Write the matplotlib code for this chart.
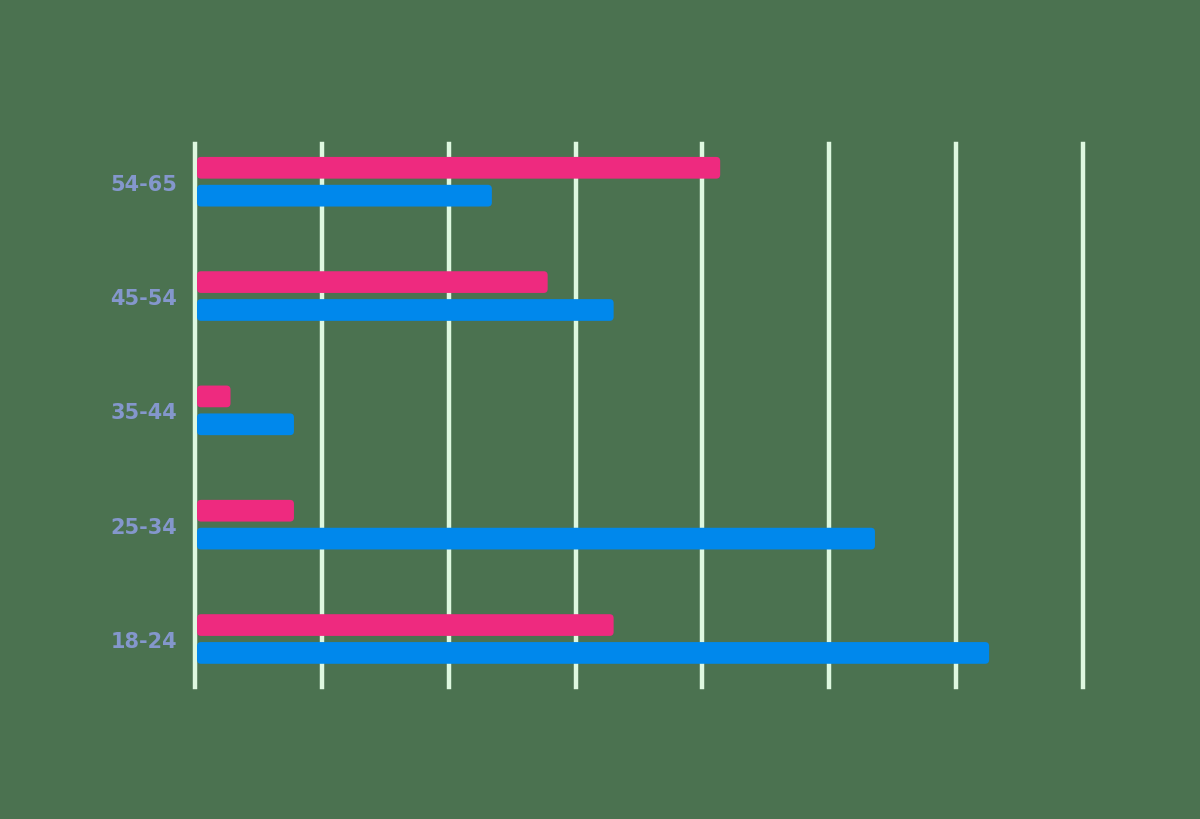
import numpy as np
import matplotlib
matplotlib.use("Agg")
from matplotlib import pyplot as plt
from matplotlib.patches import FancyBboxPatch

# age groups, bottom to top
groups = ["18-24", "25-34", "35-44", "45-54", "54-65"]
pink_vals = [16.5, 3.9, 1.4, 13.9, 20.7]
blue_vals = [31.3, 26.8, 3.9, 16.5, 11.7]
grid_x = [0, 5, 10, 15, 20, 25, 30, 35]

bg = "#4b7250"
pink = "#ee2a7f"
blue = "#0088ec"
gridc = "#def8e0"

fig = plt.figure(figsize=(12, 8.2), dpi=100)
fig.patch.set_facecolor(bg)
ax = fig.add_axes([195/1200, 132/820, 888/1200, 543/820])
ax.set_facecolor(bg)

for gx in grid_x:
    ax.axvline(gx, color=gridc, lw=3.2, zorder=1, clip_on=False)

y = np.arange(len(groups))
h = 0.19
off = 0.122
bars_p = ax.barh(y + off, pink_vals, height=h, color=pink, zorder=3)
bars_b = ax.barh(y - off, blue_vals, height=h, color=blue, zorder=3)

# swap the plain bars for ones with a rounded right end
x_per_px = 35 / 888
y_per_px = 4.75 / 543
r = 4 * x_per_px
for bars in (bars_p, bars_b):
    for rect in bars:
        x0, y0 = rect.get_x(), rect.get_y()
        w, hh = rect.get_width(), rect.get_height()
        fc = rect.get_facecolor()
        rect.set_visible(False)
        ax.add_patch(FancyBboxPatch((x0 + 0.08, y0), w - 0.08, hh,
                                    boxstyle="round,pad=0,rounding_size=%f" % r,
                                    mutation_aspect=y_per_px / x_per_px,
                                    fc=fc, ec="none", zorder=3))

ax.set_xlim(0, 35)
ax.set_ylim(-0.42, 4.33)
ax.set_yticks(y)
ax.set_yticklabels(groups, fontsize=15, color="#8497cc", fontweight="semibold")
ax.tick_params(axis="y", length=0, pad=13)
ax.set_xticks([])
for s in ax.spines.values():
    s.set_visible(False)

fig.savefig("out.png", dpi=100, facecolor=bg)
